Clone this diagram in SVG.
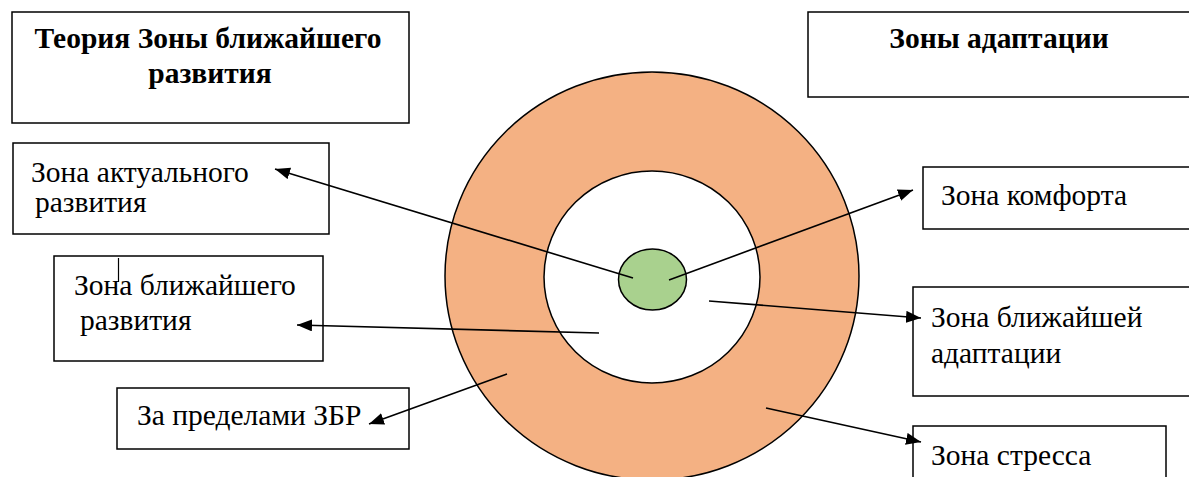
<svg xmlns="http://www.w3.org/2000/svg" width="1189" height="477" viewBox="0 0 1189 477">
<defs>
<marker id="ah" markerUnits="userSpaceOnUse" markerWidth="16" markerHeight="12" refX="15" refY="6" orient="auto">
<path d="M0,0 L15,6 L0,12 z" fill="#000"/>
</marker>
<style>
.box{fill:#fff;stroke:#000;stroke-width:1.5}
.t{font-family:'Liberation Serif','Times New Roman',serif;font-size:29.5px;fill:#000}
.b{font-weight:bold}
.c{stroke:#000;stroke-width:1.6;fill:none;marker-end:url(#ah)}
</style>
</defs>
<rect width="1189" height="477" fill="#fff"/>
<g id="title-left">
<rect class="box" x="12" y="12" width="397" height="111"/>
<text class="t b" x="208" y="48" text-anchor="middle">Теория Зоны ближайшего</text>
<text class="t b" x="210" y="83" text-anchor="middle">развития</text>
</g>
<g id="title-right">
<rect class="box" x="808" y="12" width="400" height="85"/>
<text class="t b" x="999" y="48" text-anchor="middle">Зоны адаптации</text>
</g>
<g id="circles">
<ellipse cx="652" cy="276" rx="207" ry="204" fill="#F4B183" stroke="#000" stroke-width="1.5"/>
<ellipse cx="652" cy="277" rx="108" ry="106" fill="#fff" stroke="#000" stroke-width="1.5"/>
<ellipse cx="652.5" cy="279.5" rx="34" ry="30.5" fill="#A9D18E" stroke="#000" stroke-width="1.5"/>
</g>
<g id="zone-actual">
<rect class="box" x="13" y="143" width="316" height="91"/>
<text class="t" x="31" y="182">Зона актуального</text>
<text class="t" x="35" y="212">развития</text>
</g>
<g id="zone-nearest-dev">
<rect class="box" x="54" y="256" width="269" height="105"/>
<line x1="118.5" y1="258" x2="118.5" y2="282" stroke="#000" stroke-width="1.2"/>
<text class="t" x="74" y="295">Зона ближайшего</text>
<text class="t" x="80" y="330">развития</text>
</g>
<g id="zone-beyond">
<rect class="box" x="117" y="388" width="292" height="61"/>
<text class="t" x="137" y="425">За пределами ЗБР</text>
</g>
<g id="zone-comfort">
<rect class="box" x="923" y="167" width="280" height="62"/>
<text class="t" x="941" y="205">Зона комфорта</text>
</g>
<g id="zone-nearest-adapt">
<rect class="box" x="913" y="287" width="290" height="109"/>
<text class="t" x="931" y="327">Зона ближайшей</text>
<text class="t" x="931" y="363">адаптации</text>
</g>
<g id="zone-stress">
<rect class="box" x="913" y="426" width="253" height="70"/>
<text class="t" x="931" y="465">Зона стресса</text>
</g>
<g id="connectors">
<line class="c" x1="633" y1="278" x2="275" y2="169"/>
<line class="c" x1="669" y1="280" x2="913" y2="190"/>
<line class="c" x1="709" y1="301" x2="921" y2="318"/>
<line class="c" x1="599" y1="333" x2="297" y2="325"/>
<line class="c" x1="507" y1="374" x2="369" y2="424"/>
<line class="c" x1="766" y1="408" x2="921" y2="442"/>
</g>
</svg>
